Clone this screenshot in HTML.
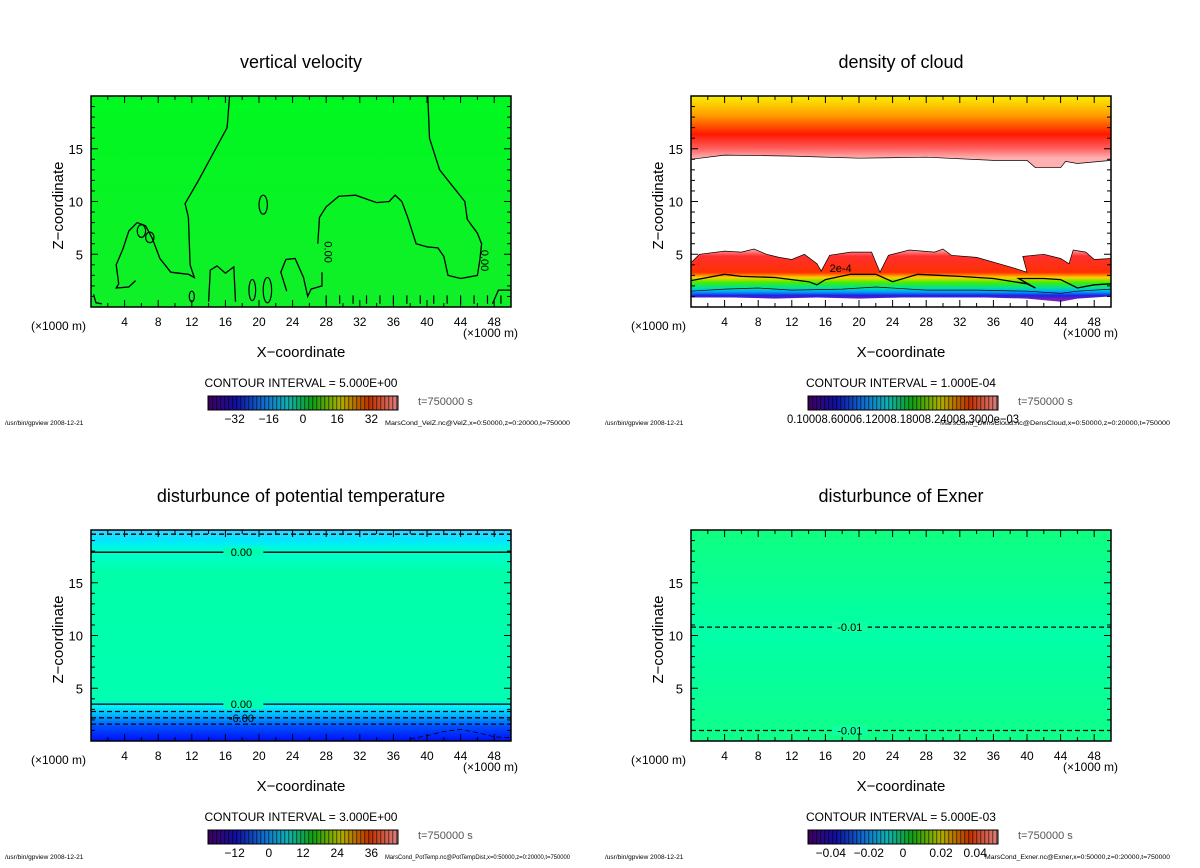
<!DOCTYPE html>
<html><head><meta charset="utf-8"><style>
html,body{margin:0;padding:0;background:#fff;}
svg{display:block;font-family:"Liberation Sans",sans-serif;}
</style></head><body>
<svg id="fig" width="1200" height="868" viewBox="0 0 1200 868">
<defs>
<linearGradient id="gVel" x1="0" y1="0" x2="0" y2="1"><stop offset="0" stop-color="#00f820"/><stop offset="1" stop-color="#10f028"/></linearGradient>
<linearGradient id="gCloudTop" gradientUnits="userSpaceOnUse" x1="0" y1="96" x2="0" y2="158">
<stop offset="0" stop-color="#f8f000"/><stop offset="0.3" stop-color="#ffa000"/><stop offset="0.62" stop-color="#ff1800"/><stop offset="0.85" stop-color="#ff6060"/><stop offset="1" stop-color="#ffb0b0"/></linearGradient>
<linearGradient id="gCloudLow" gradientUnits="userSpaceOnUse" x1="0" y1="250" x2="0" y2="300">
<stop offset="0" stop-color="#ffa0a0"/><stop offset="0.12" stop-color="#ff3030"/><stop offset="0.45" stop-color="#ff3000"/><stop offset="0.55" stop-color="#ffd000"/><stop offset="0.65" stop-color="#40f000"/><stop offset="0.76" stop-color="#00e0a0"/><stop offset="0.84" stop-color="#00a0ff"/><stop offset="0.91" stop-color="#2020e0"/><stop offset="1" stop-color="#8020c0"/></linearGradient>
<linearGradient id="gTheta" gradientUnits="userSpaceOnUse" x1="0" y1="530" x2="0" y2="741">
<stop offset="0" stop-color="#40d0ff"/><stop offset="0.05" stop-color="#00e8ff"/><stop offset="0.1" stop-color="#00ffd0"/><stop offset="0.2" stop-color="#00ffa8"/><stop offset="0.8" stop-color="#00ffb0"/><stop offset="0.84" stop-color="#00f0ff"/><stop offset="0.88" stop-color="#00b0ff"/><stop offset="0.93" stop-color="#0050ff"/><stop offset="1" stop-color="#0010f8"/></linearGradient>
<linearGradient id="gExner" gradientUnits="userSpaceOnUse" x1="0" y1="530" x2="0" y2="741">
<stop offset="0" stop-color="#10ff80"/><stop offset="0.5" stop-color="#00ffa8"/><stop offset="1" stop-color="#10ff88"/></linearGradient>
<linearGradient id="gBar" x1="0" y1="0" x2="1" y2="0">
<stop offset="0" stop-color="#400060"/><stop offset="0.15" stop-color="#1010a0"/><stop offset="0.3" stop-color="#1070d0"/><stop offset="0.42" stop-color="#10b0b0"/><stop offset="0.55" stop-color="#10a010"/><stop offset="0.7" stop-color="#b0b000"/><stop offset="0.85" stop-color="#c03000"/><stop offset="1" stop-color="#e08080"/></linearGradient>
<pattern id="pStripe" width="4" height="14" patternUnits="userSpaceOnUse"><rect x="0" y="0" width="1.3" height="14" fill="#000" opacity="0.45"/></pattern>
</defs>
<g id="root"></g>
</svg>
<script>
// ---- data ----
const xTicksMajor = [4,8,12,16,20,24,28,32,36,40,44,48];
const zTicksMajor = [5,10,15];
const titles = ["vertical velocity","density of cloud","disturbunce of potential temperature","disturbunce of Exner"];
const intervals = ["CONTOUR INTERVAL = 5.000E+00","CONTOUR INTERVAL = 1.000E-04","CONTOUR INTERVAL = 3.000E+00","CONTOUR INTERVAL = 5.000E-03"];
const footers = ["MarsCond_VelZ.nc@VelZ,x=0:50000,z=0:20000,t=750000","MarsCond_DensCloud.nc@DensCloud,x=0:50000,z=0:20000,t=750000","MarsCond_PotTemp.nc@PotTempDist,x=0:50000,z=0:20000,t=750000","MarsCond_Exner.nc@Exner,x=0:50000,z=0:20000,t=750000"];
const barLabelsVel = ["-32","-16","0","16","32"];
const barLabelsTheta = ["-12","0","12","24","36"];
const barLabelsExner = ["-0.04","-0.02","0","0.02","0.04"];
const velContourA = [[16.5,20],[16.2,17],[14.5,14.5],[12.8,12],[11.2,9.8],[11.6,8.5],[11.8,4],[12.3,2.8],[11.6,3.1],[9.5,3.3],[8.2,4.6],[7.3,6.5],[6.5,7.7],[5.5,8],[4.5,7.2],[3.8,5.5],[3,4],[3.3,2.2],[3,1.8],[4.5,1.9],[5.3,2.5]];
const velContourB = [[40.1,20],[40.3,16],[41.5,13],[43,11.5],[44.5,10],[44.8,8.3],[46,7],[46.5,6],[46.3,4.5],[46,3],[44,2.7],[42.5,3],[42,4.8],[41.3,5.6],[40,5.7],[38.7,6],[37.7,8.5],[37,10],[36.2,10.6],[35.5,10],[34,9.9],[31.5,10.6],[29.5,10.5],[28,9.5],[27.2,8.5],[27,6]];
const velContourC = [[27.5,3.3],[27.5,2],[26.2,1.7],[25.8,1],[25.3,2.8],[24.3,4.6],[23.2,4.5],[22.6,3.3],[23.3,1.5]];
const velContourD = [[14,0.5],[14.2,3.5],[15,3.9],[16,3.2],[17,3.8],[17.2,0.5]];
const velContourE = [[0.3,1.2],[0.6,0.4],[1.3,0.3]];
const velContourF = [[47.8,0.3],[48.5,1.6],[49.9,1.6]];
const velOvals = [[20.5,9.7,0.5,0.9],[19.2,1.6,0.4,1.0],[21,1.6,0.5,1.2],[6,7.2,0.5,0.6],[7,6.6,0.5,0.5],[12,1,0.3,0.5]];
const cloudUpperEdge = [[0,14],[4,14.4],[12,14.3],[20,14.1],[28,14.2],[36,13.9],[40,13.9],[41,13.2],[44,13.2],[44.6,13.8],[46,13.6],[50,13.9]];
const cloudLowTop = [[0,4.2],[1,5],[4,5.3],[6,5.2],[7.5,5.5],[9,5],[10.5,4.7],[12,4.5],[13.5,5],[15,4.1],[15.5,3.4],[16.5,4.9],[19,5.2],[21.5,5.2],[22.5,3.3],[23.5,4.9],[26,5.4],[29,5.2],[30,5.5],[31,4.9],[34,4.7],[38,3.8],[40,3.3],[39.5,4.8],[42,5],[44,4.6],[45,4.1],[45.5,5.4],[47,5.2],[48,4.5],[50,4.6]];
const cloudLowBase = [[0,0.9],[5,0.9],[10,0.8],[15,0.9],[20,0.8],[25,0.9],[30,0.9],[35,0.9],[40,0.8],[44,0.5],[46,0.8],[50,1.0]];
const cloud2e4 = [[0,2.5],[4,3.1],[6,2.9],[10,2.8],[14,2.4],[15,2.1],[16,2.6],[19,3.1],[22,3.1],[24,2.4],[27,3.1],[32,2.9],[36,2.7],[40,2.2],[41,1.8],[39,2.7],[42,2.7],[44,2.6],[46,1.8],[48,2.1],[50,2.2]];
const cloudLine2 = [[0,1.5],[4,1.7],[8,1.8],[12,1.6],[18,1.7],[22,1.9],[28,1.6],[34,1.6],[40,1.5],[44,1.3],[46,1.5],[50,1.7]];
const thetaLevels = [19.6,17.9,3.5,2.8,2.2,1.6];
const thetaDashed = [true,false,false,true,true,true];
const thetaLabels = ["","0.00","0.00","","-6.00",""];
const exnerLevels = [10.8,1.0];
const exnerLabels = ["-0.01","-0.01"];

// ---- layout ----
const NS="http://www.w3.org/2000/svg";
const root=document.getElementById('root');
function mk(tag,attrs,parent){const e=document.createElementNS(NS,tag);for(const k in attrs)e.setAttribute(k,attrs[k]);(parent||root).appendChild(e);return e;}
const panels=[{x0:91,y0:96},{x0:691,y0:96},{x0:91,y0:530},{x0:691,y0:530}];
const W=420,H=211;
function sx(p,v){return p.x0+v/50*W;}
function sy(p,v){return p.y0+H-v/20*H;}
function pts(p,arr){return arr.map(d=>sx(p,d[0]).toFixed(1)+','+sy(p,d[1]).toFixed(1)).join(' ');}
function line(p,arr,g,dash){const e=mk('polyline',{points:pts(p,arr),fill:'none',stroke:'#000','stroke-width':1.3},g);if(dash)e.setAttribute('stroke-dasharray','5,3');return e;}

panels.forEach((p,i)=>{
  const g=mk('g',{});
  
  
  const cx=p.x0+210;
  const t=mk('text',{x:cx,y:p.y0-28,'text-anchor':'middle','font-size':18},g);t.textContent=titles[i];
  
  const plot=mk('g',{},g);
  
  if(i===0){
    mk('rect',{x:p.x0,y:p.y0,width:W,height:H,fill:'url(#gVel)'},plot);
    [velContourA,velContourB,velContourC,velContourD,velContourE,velContourF].forEach(c=>{const l=line(p,c,plot);});
    velOvals.forEach(o=>{const e=mk('ellipse',{cx:sx(p,o[0]),cy:sy(p,o[1]),rx:o[2]/50*W,ry:o[3]/20*H,fill:'none',stroke:'#000','stroke-width':1.2},plot);});
    for(let k=0;k<14;k++){const xx=28+k*1.6;mk('line',{x1:sx(p,xx),y1:sy(p,0.3),x2:sx(p,xx),y2:sy(p,1.1),stroke:'#000','stroke-width':1.2},plot);}
    [[27.8,5.2],[46.4,4.4]].forEach(q=>{const e=mk('text',{x:sx(p,q[0]),y:sy(p,q[1]),'font-size':11,transform:`rotate(90 ${sx(p,q[0])} ${sy(p,q[1])})`,'text-anchor':'middle'},plot);e.textContent='0.00';});
  } else if(i===1){
    mk('rect',{x:p.x0,y:p.y0,width:W,height:H,fill:'url(#gCloudTop)'},plot);
    const white=cloudUpperEdge.concat([[50,0],[0,0]]);
    mk('polygon',{points:pts(p,white),fill:'#fff'},plot);
    line(p,cloudUpperEdge,plot).setAttribute('stroke-width','0.7');
    const low=cloudLowTop.concat(cloudLowBase.slice().reverse());
    const lp=mk('polygon',{points:pts(p,low),fill:'url(#gCloudLow)'},plot);
    
    line(p,cloudLowTop,plot).setAttribute('stroke-width','0.7');
    line(p,cloud2e4,plot);
    line(p,cloudLine2,plot).setAttribute('stroke-width','0.7');
    const lb=mk('text',{x:sx(p,16.5),y:sy(p,3.3),'font-size':11},plot);lb.textContent='2e-4';
  } else if(i===2){
    mk('rect',{x:p.x0,y:p.y0,width:W,height:H,fill:'url(#gTheta)'},plot);
    thetaLevels.forEach((z,k)=>{
      const l=line(p,[[0,z],[50,z]],plot,thetaDashed[k]);
      
      if(thetaLabels[k]){const x=sx(p,16),y=sy(p,z);mk('rect',{x:x-2,y:y-5,width:40,height:10,fill:k===4?'none':'#00ffb0',opacity:k===4?0:1},plot);const tt=mk('text',{x:x+16,y:y+4,'font-size':11,'text-anchor':'middle'},plot);tt.textContent=thetaLabels[k];}
    });
    line(p,[[38,0.2],[40,0.5],[42,0.9],[44,1.1],[46,0.8],[48,0.4],[50,0.3]],plot,true).setAttribute('stroke-width','0.8');
  } else {
    mk('rect',{x:p.x0,y:p.y0,width:W,height:H,fill:'url(#gExner)'},plot);
    exnerLevels.forEach((z,k)=>{
      const l=line(p,[[0,z],[50,z]],plot,true);
      
      const x=sx(p,17),y=sy(p,z);mk('rect',{x:x-2,y:y-5,width:36,height:10,fill:'#10ffa0'},plot);
      const tt=mk('text',{x:x+16,y:y+4,'font-size':11,'text-anchor':'middle'},plot);tt.textContent=exnerLabels[k];
    });
  }
  // frame & ticks
  const fr=mk('rect',{x:p.x0,y:p.y0,width:W,height:H,fill:'none',stroke:'#000','stroke-width':1.5},g);
  
  for(let v=1;v<50;v++){
    const L=(v%4===0)?7:(v%2===0?4:0); if(!L)continue;
    mk('line',{x1:sx(p,v),y1:p.y0+H,x2:sx(p,v),y2:p.y0+H-L,stroke:'#000','stroke-width':1},g);
    mk('line',{x1:sx(p,v),y1:p.y0,x2:sx(p,v),y2:p.y0+L,stroke:'#000','stroke-width':1},g);
  }
  for(let v=1;v<20;v++){
    const L=(v%5===0)?7:4;
    mk('line',{x1:p.x0,y1:sy(p,v),x2:p.x0+L,y2:sy(p,v),stroke:'#000','stroke-width':1},g);
    mk('line',{x1:p.x0+W,y1:sy(p,v),x2:p.x0+W-L,y2:sy(p,v),stroke:'#000','stroke-width':1},g);
  }
  xTicksMajor.forEach(v=>{const e=mk('text',{x:sx(p,v),y:p.y0+H+19,'font-size':12,'text-anchor':'middle'},g);e.textContent=v;});
  zTicksMajor.forEach(v=>{const e=mk('text',{x:p.x0-8,y:sy(p,v)+5,'font-size':13,'text-anchor':'end'},g);e.textContent=v;});
  const u1=mk('text',{x:p.x0-60,y:p.y0+H+23,'font-size':12},g);u1.textContent='(\u00d71000 m)';
  const u2=mk('text',{x:p.x0+W+7,y:p.y0+H+30,'font-size':12,'text-anchor':'end'},g);u2.textContent='(\u00d71000 m)';
  const xt=mk('text',{x:cx,y:p.y0+H+50,'font-size':15,'text-anchor':'middle'},g);xt.textContent='X\u2212coordinate';
  
  const yx=p.x0-28,yy=p.y0+H/2+4;
  const yt=mk('text',{x:yx,y:yy,'font-size':15,'text-anchor':'middle',transform:`rotate(-90 ${yx} ${yy})`},g);yt.textContent='Z\u2212coordinate';
  
  const ci=mk('text',{x:cx,y:p.y0+H+80,'font-size':12,'text-anchor':'middle'},g);ci.textContent=intervals[i];
  
  // colorbar
  const bx=p.x0+117,by=p.y0+H+89,bw=190,bh=14;
  const cb=mk('rect',{x:bx,y:by,width:bw,height:bh,fill:'url(#gBar)'},g);
  
  mk('rect',{x:bx,y:by,width:bw,height:bh,fill:'url(#pStripe)'},g);
  mk('rect',{x:bx,y:by,width:bw,height:bh,fill:'none',stroke:'#000','stroke-width':1},g);
  const labs=i===0?barLabelsVel:i===2?barLabelsTheta:i===3?barLabelsExner:null;
  if(labs){
    const pos=i===3?[0.12,0.32,0.5,0.7,0.88]:[0.14,0.32,0.5,0.68,0.86];
    labs.forEach((s,k)=>{const e=mk('text',{x:bx+bw*pos[k],y:by+bh+13,'font-size':12,'text-anchor':'middle'},g);e.textContent=s.replace('-','\u2212');});
  } else {
    const e=mk('text',{x:bx+bw/2,y:by+bh+13,'font-size':12,'text-anchor':'middle',textLength:232,lengthAdjust:'spacingAndGlyphs'},g);e.textContent='0.10008.60006.12008.18008.24008.3000e\u221203';
  }
  const tm=mk('text',{x:p.x0+327,y:by+9,'font-size':11,fill:'#555'},g);tm.textContent='t=750000 s';
  
  const f1=mk('text',{x:p.x0-86,y:by+29,'font-size':6.5},g);f1.textContent='/usr/bin/gpview   2008-12-21';
  const f2=mk('text',{x:p.x0+479,y:by+29,'font-size':6,'text-anchor':'end',textLength:i===1?230:185,lengthAdjust:'spacingAndGlyphs'},g);f2.textContent=footers[i];
});
</script>
</body></html>
